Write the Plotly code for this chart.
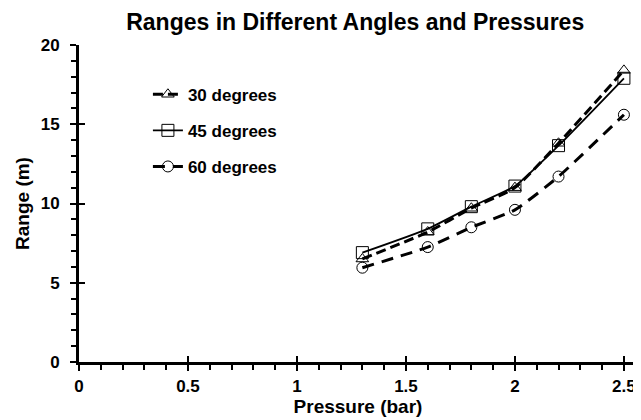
import plotly.graph_objects as go

pressure = [1.3, 1.6, 1.8, 2.0, 2.2, 2.5]
deg30 = [6.5, 8.2, 9.7, 11.0, 13.8, 18.4]
deg45 = [6.9, 8.4, 9.8, 11.1, 13.65, 17.9]
deg60 = [5.95, 7.25, 8.5, 9.6, 11.7, 15.6]
series_names = ["30 degrees", "45 degrees", "60 degrees"]

FONT = "Arial, Liberation Sans, sans-serif"

fig = go.Figure()
fig.add_trace(go.Scatter(
    x=pressure, y=deg30, name=series_names[0], mode="lines+markers",
    line=dict(color="black", width=3, dash="10px,5px", shape="spline", smoothing=0.5),
    marker=dict(symbol="triangle-up-open", size=11, color="black", line=dict(width=1)),
    legendgroup="a"))
fig.add_trace(go.Scatter(
    x=pressure, y=deg45, name=series_names[1], mode="lines+markers",
    line=dict(color="black", width=1.8, shape="spline", smoothing=0.5),
    marker=dict(symbol="square-open", size=12, color="black", line=dict(width=1)),
    legendgroup="b"))
fig.add_trace(go.Scatter(
    x=pressure, y=deg60, name=series_names[2], mode="lines+markers",
    line=dict(color="black", width=3, dash="12px,8px", shape="spline", smoothing=0.5),
    marker=dict(symbol="circle-open", size=11, color="black", line=dict(width=1)),
    legendgroup="c"))
# invisible trace to carry the overlay axes (crossing major ticks)
fig.add_trace(go.Scatter(x=pressure, y=deg45, xaxis="x2", yaxis="y2",
                         mode="lines", line=dict(width=0), opacity=0,
                         showlegend=False, hoverinfo="skip"))

tickfont = dict(family=FONT, size=17, color="black", weight="bold")

# page body has an 8px default margin, so the figure is drawn 8px smaller
fig.update_layout(
    width=633, height=412,
    margin=dict(l=71, r=4, t=37, b=58),
    paper_bgcolor="white", plot_bgcolor="white",
    font=dict(family=FONT, color="black"),
    title=dict(text="Ranges in Different Angles and Pressures",
               x=0.495, xref="paper", xanchor="center", y=1 - 14 / 412, yanchor="middle",
               font=dict(family=FONT, size=23, color="black", weight="bold")),
    showlegend=True,
    legend=dict(x=0.1235, y=0.9, xanchor="left", yanchor="top", itemwidth=30,
                bgcolor="rgba(0,0,0,0)", tracegroupgap=11,
                font=dict(family=FONT, size=17, color="black", weight="bold")),
    xaxis=dict(range=[0, 2.56], tickmode="linear", tick0=0, dtick=0.5,
               ticks="outside", ticklen=6, tickwidth=2, tickcolor="black",
               showline=True, linewidth=3, linecolor="black", automargin=False,
               showgrid=False, zeroline=False, tickfont=tickfont,
               tickformat="~g", ticklabeloverflow="allow", ticklabelstandoff=1,
               minor=dict(ticks="outside", dtick=0.1, tick0=0, ticklen=5,
                          tickwidth=2, tickcolor="black", showgrid=False),
               title=dict(text="Pressure (bar)", standoff=0,
                          font=dict(family=FONT, size=19, color="black", weight="bold"))),
    yaxis=dict(range=[0, 20], tickmode="linear", tick0=0, dtick=5,
               ticks="outside", ticklen=6, tickwidth=2, tickcolor="black",
               showline=True, linewidth=3, linecolor="black", automargin=False,
               showgrid=False, zeroline=False, tickfont=tickfont,
               ticklabeloverflow="allow", ticklabelstandoff=7,
               minor=dict(ticks="outside", dtick=1, tick0=0, ticklen=5,
                          tickwidth=2, tickcolor="black", showgrid=False),
               title=dict(text="Range (m)", standoff=7,
                          font=dict(family=FONT, size=19, color="black", weight="bold"))),
    xaxis2=dict(overlaying="x", anchor="y", side="bottom", range=[0, 2.56],
                tickmode="linear", tick0=0, dtick=0.5, ticks="inside", ticklen=6,
                tickwidth=2, tickcolor="black", showticklabels=False, automargin=False,
                showline=False, showgrid=False, zeroline=False),
    yaxis2=dict(overlaying="y", anchor="x", side="left", range=[0, 20],
                tickmode="linear", tick0=0, dtick=5, ticks="inside", ticklen=6,
                tickwidth=2, tickcolor="black", showticklabels=False, automargin=False,
                showline=False, showgrid=False, zeroline=False),
)

fig.write_html("out.html")
